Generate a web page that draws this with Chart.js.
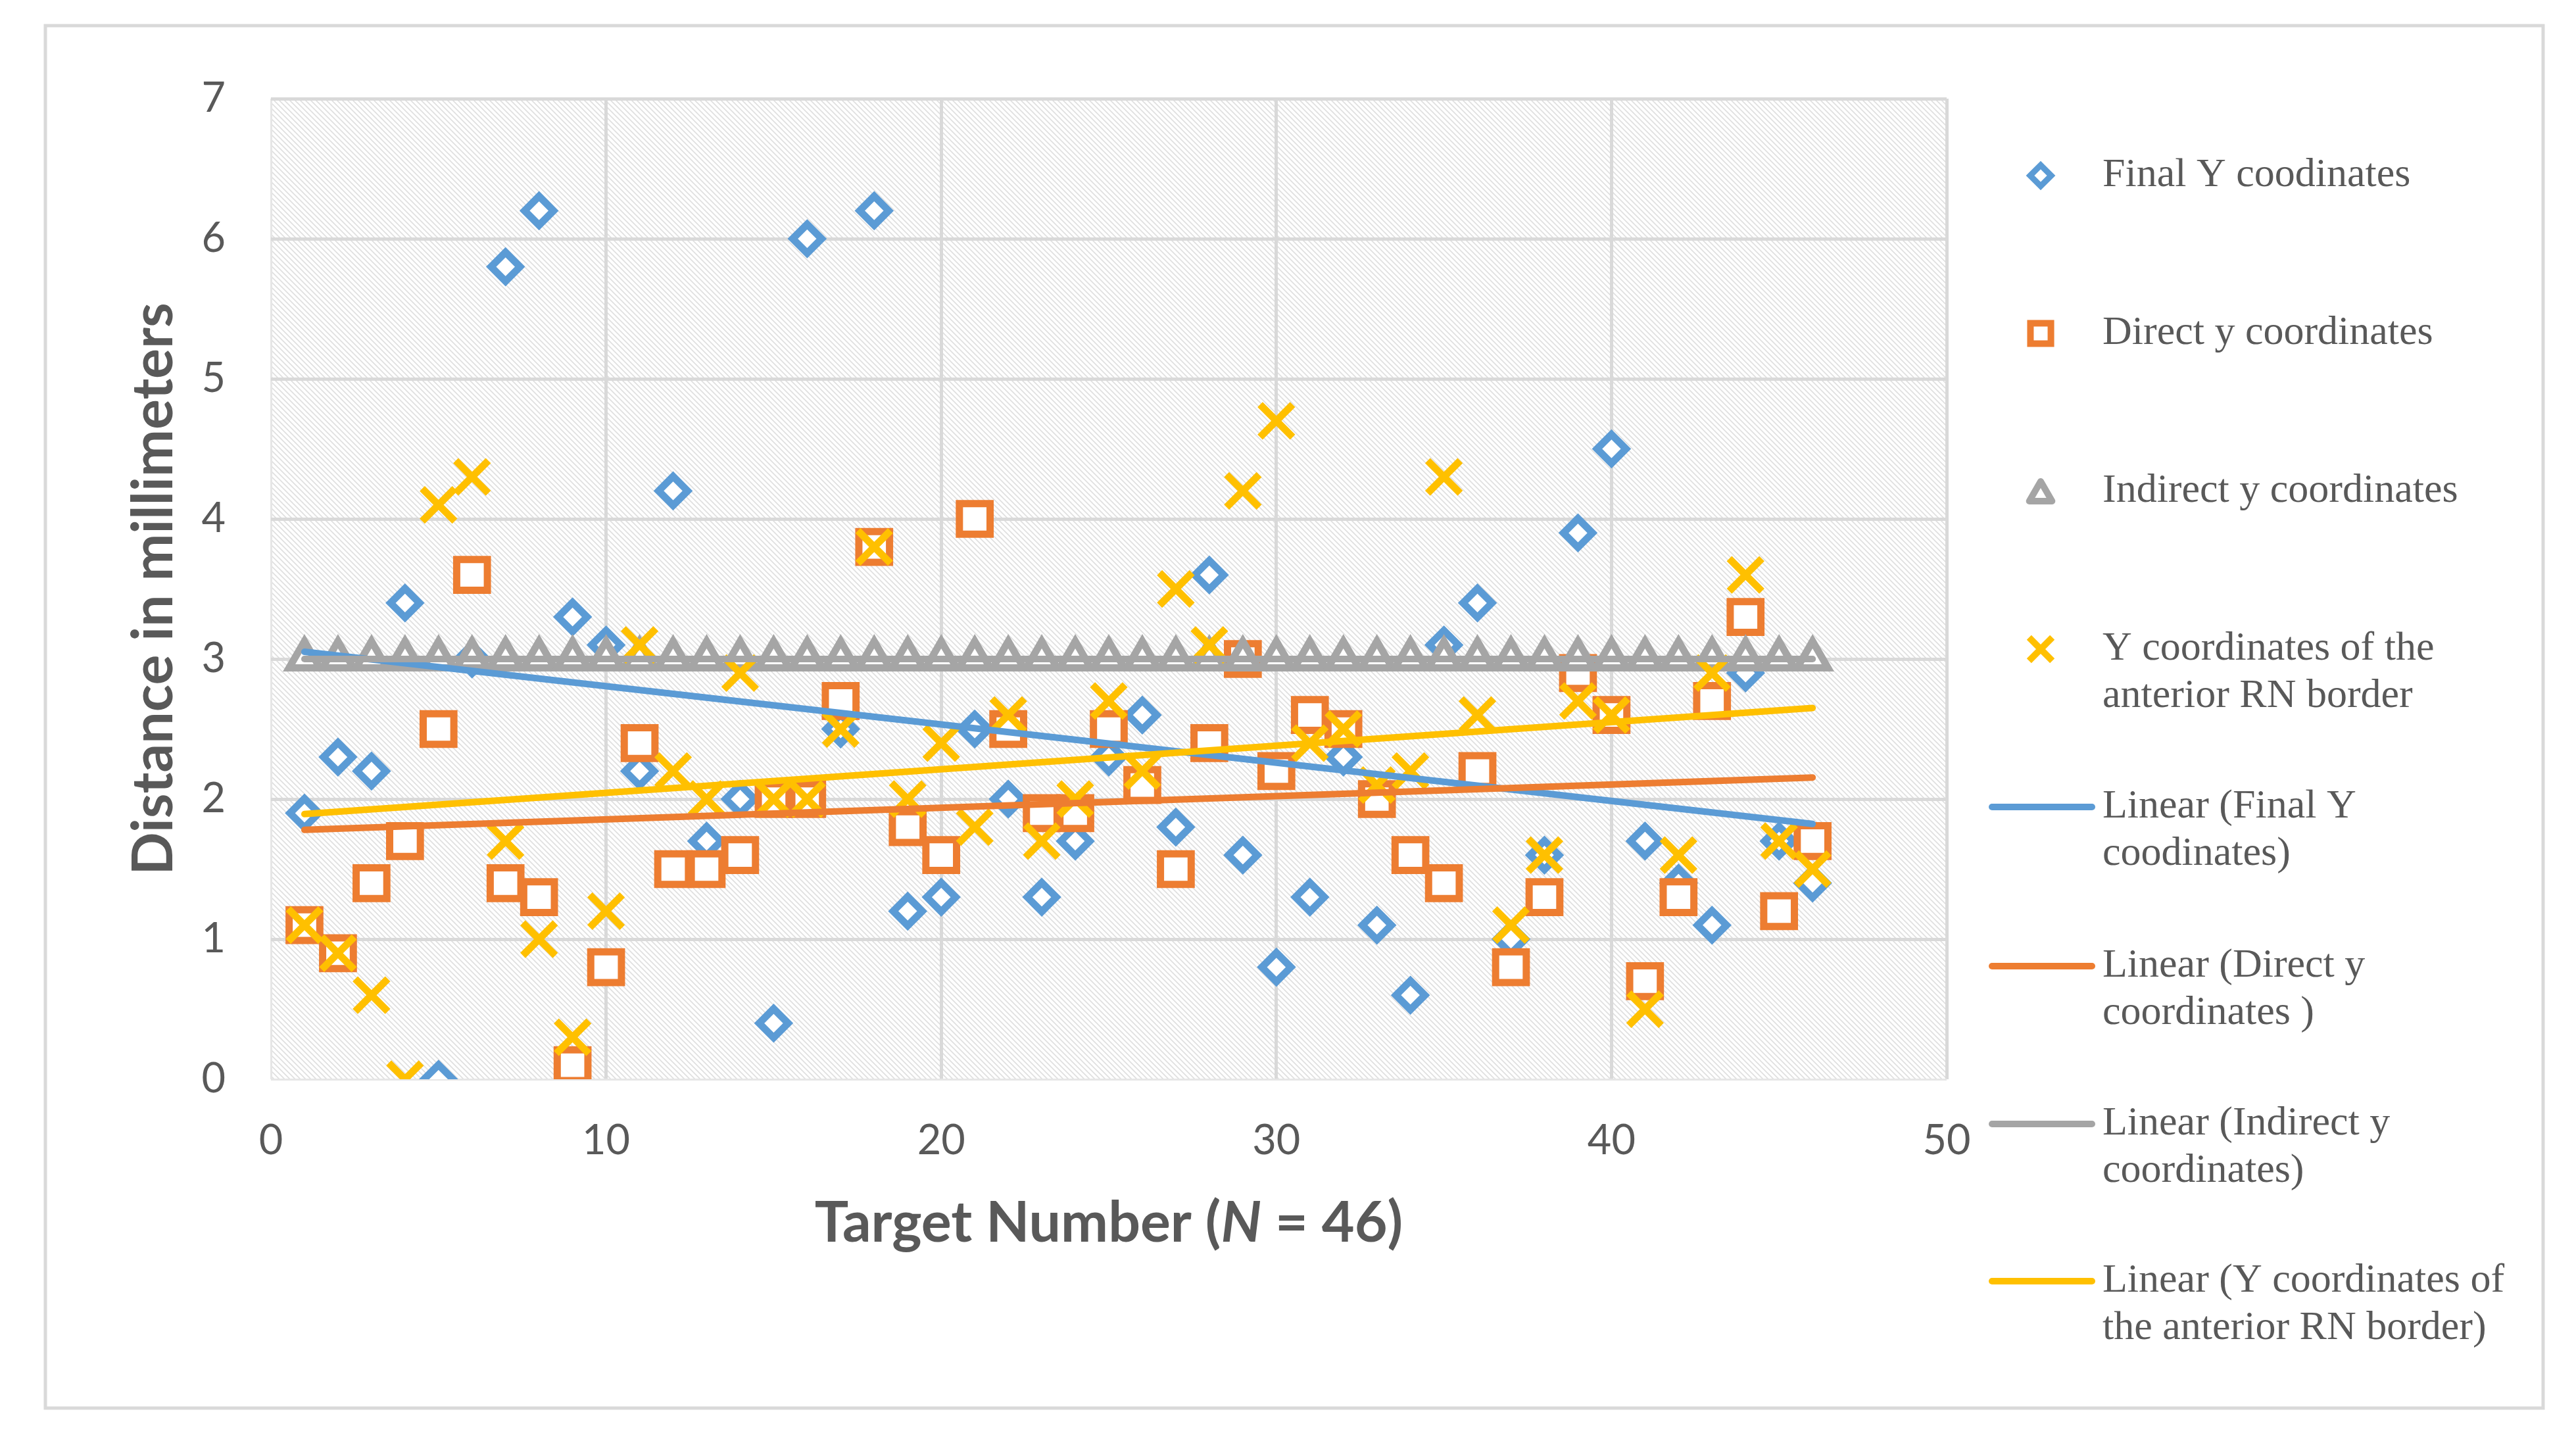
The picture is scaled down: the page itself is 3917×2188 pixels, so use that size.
<!DOCTYPE html>
<html>
<head>
<meta charset="utf-8">
<script src="https://cdn.jsdelivr.net/npm/chart.js@4.4.1/dist/chart.umd.min.js"></script>
<style>
  html, body { margin: 0; padding: 0; background: #ffffff; }
  #wrap { position: relative; width: 3917px; height: 2188px; }
</style>
</head>
<body>
<div id="wrap"><canvas id="c"></canvas></div>
<script>
// ---------------- data ----------------
const targets = [1,2,3,4,5,6,7,8,9,10,11,12,13,14,15,16,17,18,19,20,21,22,23,24,25,26,27,28,29,30,31,32,33,34,35,36,37,38,39,40,41,42,43,44,45,46];

const finalY = [1.9,2.3,2.2,3.4,0.0,3.0,5.8,6.2,3.3,3.1,
                2.2,4.2,1.7,2.0,0.4,6.0,2.5,6.2,1.2,1.3,
                2.5,2.0,1.3,1.7,2.3,2.6,1.8,3.6,1.6,0.8,
                1.3,2.3,1.1,0.6,3.1,3.4,1.0,1.6,3.9,4.5,
                1.7,1.4,1.1,2.9,1.7,1.4];

const directY = [1.1,0.9,1.4,1.7,2.5,3.6,1.4,1.3,0.1,0.8,
                 2.4,1.5,1.5,1.6,2.0,2.0,2.7,3.8,1.8,1.6,
                 4.0,2.5,1.9,1.9,2.5,2.1,1.5,2.4,3.0,2.2,
                 2.6,2.5,2.0,1.6,1.4,2.2,0.8,1.3,2.9,2.6,
                 0.7,1.3,2.7,3.3,1.2,1.7];

const indirectY = [3,3,3,3,3,3,3,3,3,3,
                   3,3,3,3,3,3,3,3,3,3,
                   3,3,3,3,3,3,3,3,3,3,
                   3,3,3,3,3,3,3,3,3,3,
                   3,3,3,3,3,3];

const anteriorY = [1.1,0.9,0.6,0.0,4.1,4.3,1.7,1.0,0.3,1.2,
                   3.1,2.2,2.0,2.9,2.0,2.0,2.5,3.8,2.0,2.4,
                   1.8,2.6,1.7,2.0,2.7,2.2,3.5,3.1,4.2,4.7,
                   2.4,2.5,2.1,2.2,4.3,2.6,1.1,1.6,2.7,2.6,
                   0.5,1.6,2.9,3.6,1.7,1.5];

const seriesNames = ["Final Y coodinates", "Direct y coordinates", "Indirect y coordinates", "Y coordinates of the anterior RN border"];
const trendNames = ["Linear (Final Y coodinates)", "Linear (Direct y coordinates )", "Linear (Indirect y coordinates)", "Linear (Y coordinates of the anterior RN border)"];
const xTicks = [0,10,20,30,40,50];
const yTicks = [0,1,2,3,4,5,6,7];
const xTitle = ["Target Number (", "N", " = 46)"];
const yTitle = "Distance in millimeters";

// ---------------- helpers ----------------
const COLORS = ['#5B9BD5', '#ED7D31', '#A5A5A5', '#FFC000'];
const TEXT = '#595959';

function pts(ys) { return targets.map((x, i) => ({ x: x, y: ys[i] })); }
function linFit(ys) {
  const n = targets.length;
  let sx = 0, sy = 0, sxx = 0, sxy = 0;
  for (let i = 0; i < n; i++) { const x = targets[i], y = ys[i]; sx += x; sy += y; sxx += x * x; sxy += x * y; }
  const b = (n * sxy - sx * sy) / (n * sxx - sx * sx);
  const a = (sy - b * sx) / n;
  const x0 = targets[0], x1 = targets[n - 1];
  return [{ x: x0, y: a + b * x0 }, { x: x1, y: a + b * x1 }];
}

// hatch pattern for plot area
const pc = document.createElement('canvas');
pc.width = 8; pc.height = 8;
const p = pc.getContext('2d');
p.fillStyle = '#ffffff'; p.fillRect(0, 0, 8, 8);
p.strokeStyle = '#e0e0e0'; p.lineWidth = 1.8;
p.beginPath();
p.moveTo(-2, -2); p.lineTo(10, 10);
p.moveTo(-2, 6); p.lineTo(2, 10);
p.moveTo(6, -2); p.lineTo(10, 2);
p.stroke();

const bgPlugin = {
  id: 'bg',
  beforeDraw(chart) {
    const ctx = chart.ctx, a = chart.chartArea;
    ctx.save();
    ctx.fillStyle = '#ffffff';
    ctx.fillRect(0, 0, chart.width, chart.height);
    ctx.strokeStyle = '#d9d9d9'; ctx.lineWidth = 5;
    ctx.strokeRect(69, 39, 3867 - 69, 2141 - 39);
    ctx.fillStyle = ctx.createPattern(pc, 'repeat');
    ctx.fillRect(a.left, a.top, a.right - a.left, a.bottom - a.top);
    ctx.restore();
  }
};

function drawMarker(ctx, style, x, y, r, w, color) {
  ctx.save();
  ctx.strokeStyle = color; ctx.lineWidth = w; ctx.fillStyle = '#ffffff';
  ctx.beginPath();
  if (style === 'rectRot') {
    ctx.moveTo(x - r, y); ctx.lineTo(x, y - r); ctx.lineTo(x + r, y); ctx.lineTo(x, y + r); ctx.closePath();
    ctx.fill(); ctx.stroke();
  } else if (style === 'rect') {
    const s = r / Math.SQRT2;
    ctx.rect(x - s, y - s, 2 * s, 2 * s); ctx.fill(); ctx.stroke();
  } else if (style === 'triangle') {
    const hw = r * Math.sqrt(3) / 2;
    ctx.moveTo(x, y - r * 0.75); ctx.lineTo(x + hw, y + r * 0.75); ctx.lineTo(x - hw, y + r * 0.75); ctx.closePath();
    ctx.lineJoin = 'round';
    ctx.fill(); ctx.stroke();
  } else if (style === 'crossRot') {
    const s = r * Math.SQRT1_2;
    ctx.moveTo(x - s, y - s); ctx.lineTo(x + s, y + s);
    ctx.moveTo(x - s, y + s); ctx.lineTo(x + s, y - s);
    ctx.stroke();
  }
  ctx.restore();
}

const legendPlugin = {
  id: 'customLegend',
  afterDraw(chart) {
    const ctx = chart.ctx;
    ctx.save();
    ctx.font = "62px 'Liberation Serif'";
    ctx.fillStyle = TEXT;
    ctx.textBaseline = 'middle';
    ctx.textAlign = 'left';
    const textX = 3197, markX = 3103;
    const items = [
      { kind: 'mark', style: 'rectRot', r: 16, w: 9, color: COLORS[0], lines: [seriesNames[0]] },
      { kind: 'mark', style: 'rect', r: 22, w: 10, color: COLORS[1], lines: [seriesNames[1]] },
      { kind: 'mark', style: 'triangle', r: 20, w: 10, color: COLORS[2], lines: [seriesNames[2]] },
      { kind: 'mark', style: 'crossRot', r: 25, w: 10, color: COLORS[3], lines: ["Y coordinates of the", "anterior RN border"] },
      { kind: 'line', color: COLORS[0], lines: ["Linear (Final Y", "coodinates)"] },
      { kind: 'line', color: COLORS[1], lines: ["Linear (Direct y", "coordinates )"] },
      { kind: 'line', color: COLORS[2], lines: ["Linear (Indirect y", "coordinates)"] },
      { kind: 'line', color: COLORS[3], lines: ["Linear (Y coordinates of", "the anterior RN border)"] }
    ];
    const ys = [267, 507, 747, 987, 1227, 1469, 1709, 1948];
    items.forEach((it, i) => {
      const y = ys[i];
      if (it.kind === 'mark') {
        drawMarker(ctx, it.style, markX, y, it.r, it.w, it.color);
      } else {
        ctx.save();
        ctx.strokeStyle = it.color; ctx.lineWidth = 10; ctx.lineCap = 'round';
        ctx.beginPath(); ctx.moveTo(3029, y); ctx.lineTo(3181, y); ctx.stroke();
        ctx.restore();
      }
      it.lines.forEach((t, k) => ctx.fillText(t, textX, y + k * 72));
    });

    // x axis title with italic N
    const fB = "bold 86px Lato", fI = "italic bold 86px Lato";
    ctx.font = fB; const w0 = ctx.measureText(xTitle[0]).width;
    ctx.font = fI; const w1 = ctx.measureText(xTitle[1]).width;
    ctx.font = fB; const w2 = ctx.measureText(xTitle[2]).width;
    const a = chart.chartArea;
    let x = (a.left + a.right) / 2 - (w0 + w1 + w2) / 2;
    const by = 1888;
    ctx.textBaseline = 'alphabetic';
    ctx.fillStyle = TEXT;
    ctx.font = fB; ctx.fillText(xTitle[0], x, by); x += w0;
    ctx.font = fI; ctx.fillText(xTitle[1], x, by); x += w1;
    ctx.font = fB; ctx.fillText(xTitle[2], x, by);
    ctx.restore();
  }
};

const markerBase = { showLine: false, pointBackgroundColor: '#ffffff', pointHoverRadius: 0 };

new Chart(document.getElementById('c'), {
  type: 'scatter',
  data: {
    datasets: [
      Object.assign({}, markerBase, { label: seriesNames[0], data: pts(finalY), order: 8,
        pointStyle: 'rectRot', pointRadius: 22, pointBorderWidth: 11, pointBorderColor: COLORS[0], borderColor: COLORS[0] }),
      Object.assign({}, markerBase, { label: seriesNames[1], data: pts(directY), order: 7,
        pointStyle: 'rect', pointRadius: 33, pointBorderWidth: 11, pointBorderColor: COLORS[1], borderColor: COLORS[1] }),
      Object.assign({}, markerBase, { label: seriesNames[2], data: pts(indirectY), order: 6,
        pointStyle: 'triangle', pointRadius: 27, pointBorderWidth: 11, pointBorderColor: COLORS[2], borderColor: COLORS[2] }),
      Object.assign({}, markerBase, { label: seriesNames[3], data: pts(anteriorY), order: 5,
        pointStyle: 'crossRot', pointRadius: 35, pointBorderWidth: 11, pointBorderColor: COLORS[3], borderColor: COLORS[3] }),
      { label: trendNames[0], data: linFit(finalY), showLine: true, pointRadius: 0, borderWidth: 10, borderColor: COLORS[0], borderCapStyle: 'round', fill: false, order: 4 },
      { label: trendNames[1], data: linFit(directY), showLine: true, pointRadius: 0, borderWidth: 10, borderColor: COLORS[1], borderCapStyle: 'round', fill: false, order: 3 },
      { label: trendNames[2], data: linFit(indirectY), showLine: true, pointRadius: 0, borderWidth: 10, borderColor: COLORS[2], borderCapStyle: 'round', fill: false, order: 2 },
      { label: trendNames[3], data: linFit(anteriorY), showLine: true, pointRadius: 0, borderWidth: 10, borderColor: COLORS[3], borderCapStyle: 'round', fill: false, order: 1 }
    ]
  },
  options: {
    responsive: true,
    maintainAspectRatio: false,
    devicePixelRatio: 1,
    animation: false,
    events: [],
    layout: { padding: { left: 70, top: 150, right: 957, bottom: 0 } },
    plugins: { legend: { display: false }, tooltip: { enabled: false }, title: { display: false } },
    scales: {
      x: {
        type: 'linear', min: 0, max: 50,
        afterBuildTicks: (s) => { s.ticks = xTicks.map(v => ({ value: v })); },
        afterFit: (s) => { s.height = 547; },
        grid: { color: (c) => c.tick && c.tick.value === 0 ? '#e6e6e6' : '#d9d9d9', lineWidth: (c) => c.tick && c.tick.value === 0 ? 3 : 5, drawTicks: false },
        border: { display: false },
        ticks: { color: TEXT, font: { family: 'Lato', size: 63 }, padding: 56, maxRotation: 0 },
        title: { display: false }
      },
      y: {
        type: 'linear', min: 0, max: 7,
        afterBuildTicks: (s) => { s.ticks = yTicks.map(v => ({ value: v })); },
        afterFit: (s) => { s.width = 342; },
        grid: { color: (c) => c.tick && c.tick.value === 0 ? '#e6e6e6' : '#d9d9d9', lineWidth: (c) => c.tick && c.tick.value === 0 ? 3 : 5, drawTicks: false },
        border: { display: false },
        ticks: { color: TEXT, font: { family: 'Lato', size: 63 }, padding: 69 },
        title: { display: true, text: yTitle, color: TEXT, font: { family: 'Lato', size: 86, weight: 'bold' }, padding: { top: 113, bottom: 0 } }
      }
    }
  },
  plugins: [bgPlugin, legendPlugin]
});
</script>
</body>
</html>
